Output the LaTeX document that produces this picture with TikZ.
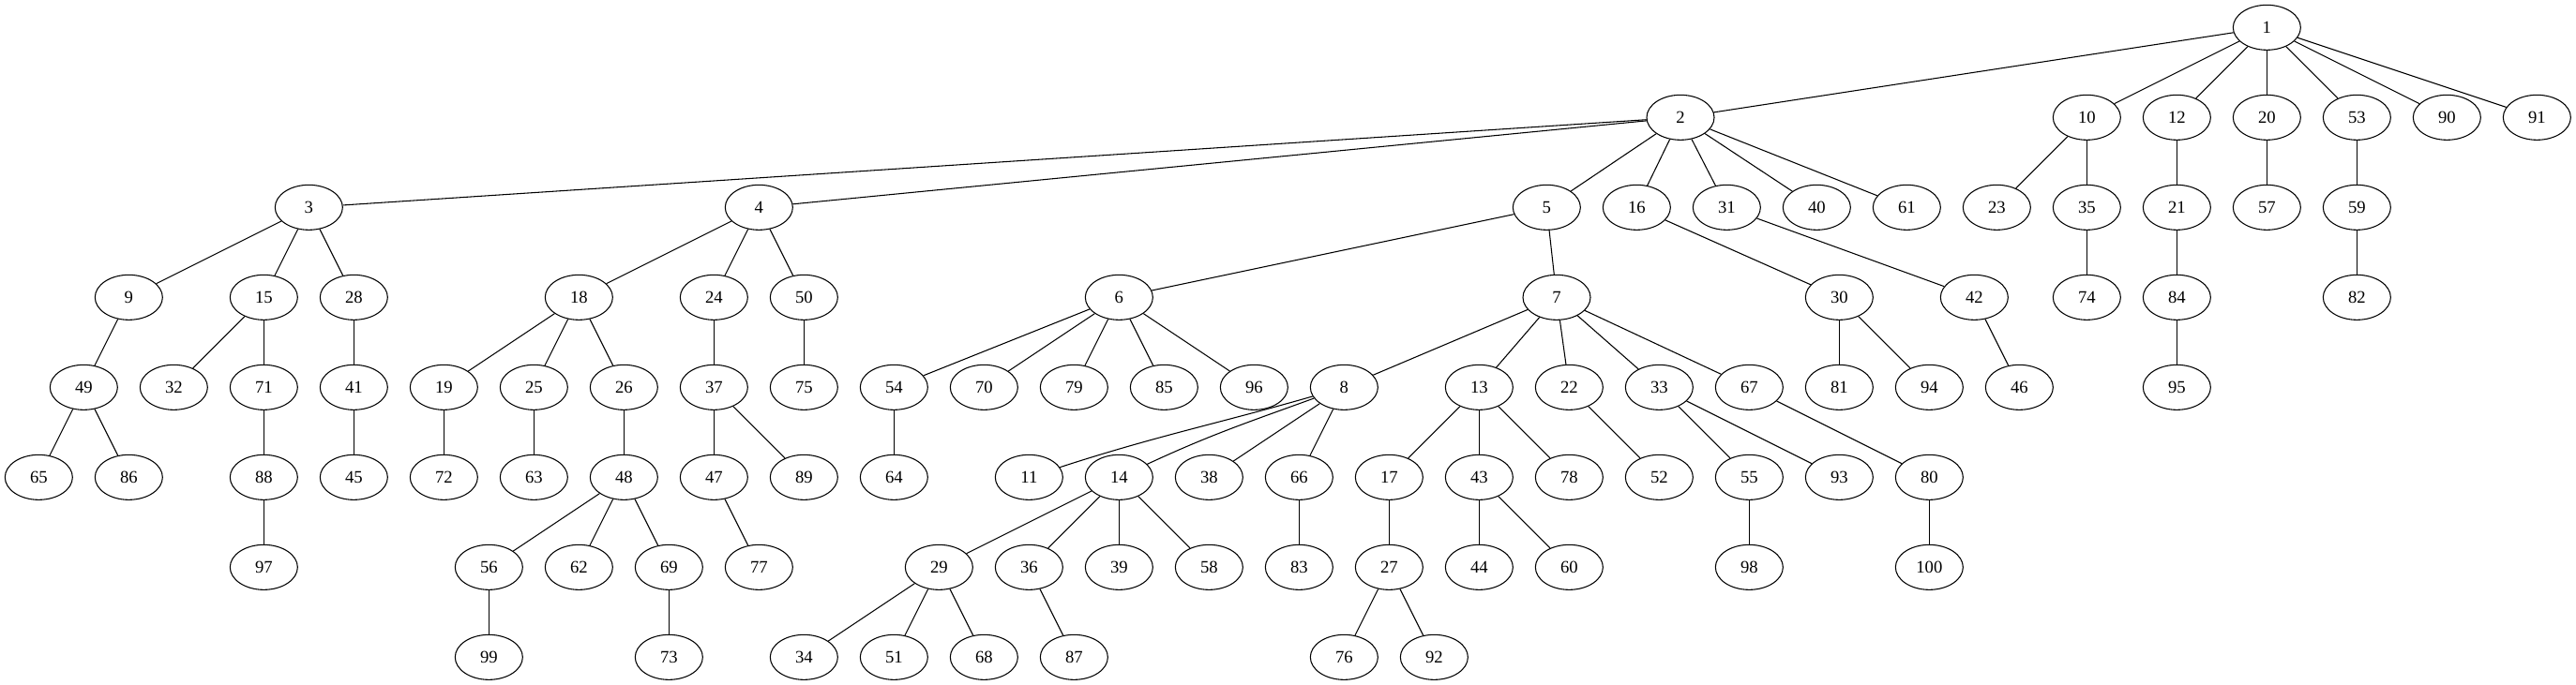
\documentclass[tikz,border=0pt]{standalone}
\usepackage{fontspec}
\setmainfont{Liberation Serif}
\usetikzlibrary{shapes.geometric}
\newcommand{\rankSep}[0]{72pt}

\begin{document}
\begin{tikzpicture}[x=1pt, y=-\rankSep, line width=0.8pt]
  \tikzset{vert/.style={draw, ellipse, minimum width=54pt, minimum height=36pt,
      inner sep=0pt, font=\fontsize{14}{16}\selectfont}}
  \useasboundingbox (0,-0.3056) rectangle (2060.25,7.309);
  % rank 0
  \node[vert] (n1) at (1813,0) {1};
  % rank 1
  \node[vert] (n2) at (1344,1) {2};
  \node[vert] (n10) at (1669,1) {10};
  \node[vert] (n12) at (1741,1) {12};
  \node[vert] (n20) at (1813,1) {20};
  \node[vert] (n53) at (1885,1) {53};
  \node[vert] (n90) at (1957,1) {90};
  \node[vert] (n91) at (2029,1) {91};
  % rank 2
  \node[vert] (n3) at (247,2) {3};
  \node[vert] (n4) at (607,2) {4};
  \node[vert] (n5) at (1237,2) {5};
  \node[vert] (n16) at (1309,2) {16};
  \node[vert] (n31) at (1381,2) {31};
  \node[vert] (n40) at (1453,2) {40};
  \node[vert] (n61) at (1525,2) {61};
  \node[vert] (n23) at (1597,2) {23};
  \node[vert] (n35) at (1669,2) {35};
  \node[vert] (n21) at (1741,2) {21};
  \node[vert] (n57) at (1813,2) {57};
  \node[vert] (n59) at (1885,2) {59};
  % rank 3
  \node[vert] (n9) at (103,3) {9};
  \node[vert] (n15) at (211,3) {15};
  \node[vert] (n28) at (283,3) {28};
  \node[vert] (n18) at (463,3) {18};
  \node[vert] (n24) at (571,3) {24};
  \node[vert] (n50) at (643,3) {50};
  \node[vert] (n6) at (895,3) {6};
  \node[vert] (n7) at (1245,3) {7};
  \node[vert] (n30) at (1471,3) {30};
  \node[vert] (n42) at (1579,3) {42};
  \node[vert] (n74) at (1669,3) {74};
  \node[vert] (n84) at (1741,3) {84};
  \node[vert] (n82) at (1885,3) {82};
  % rank 4
  \node[vert] (n49) at (67,4) {49};
  \node[vert] (n32) at (139,4) {32};
  \node[vert] (n71) at (211,4) {71};
  \node[vert] (n41) at (283,4) {41};
  \node[vert] (n19) at (355,4) {19};
  \node[vert] (n25) at (427,4) {25};
  \node[vert] (n26) at (499,4) {26};
  \node[vert] (n37) at (571,4) {37};
  \node[vert] (n75) at (643,4) {75};
  \node[vert] (n54) at (715,4) {54};
  \node[vert] (n70) at (787,4) {70};
  \node[vert] (n79) at (859,4) {79};
  \node[vert] (n85) at (931,4) {85};
  \node[vert] (n96) at (1003,4) {96};
  \node[vert] (n8) at (1075,4) {8};
  \node[vert] (n13) at (1183,4) {13};
  \node[vert] (n22) at (1255,4) {22};
  \node[vert] (n33) at (1327,4) {33};
  \node[vert] (n67) at (1399,4) {67};
  \node[vert] (n81) at (1471,4) {81};
  \node[vert] (n94) at (1543,4) {94};
  \node[vert] (n46) at (1615,4) {46};
  \node[vert] (n95) at (1741,4) {95};
  % rank 5
  \node[vert] (n65) at (31,5) {65};
  \node[vert] (n86) at (103,5) {86};
  \node[vert] (n88) at (211,5) {88};
  \node[vert] (n45) at (283,5) {45};
  \node[vert] (n72) at (355,5) {72};
  \node[vert] (n63) at (427,5) {63};
  \node[vert] (n48) at (499,5) {48};
  \node[vert] (n47) at (571,5) {47};
  \node[vert] (n89) at (643,5) {89};
  \node[vert] (n64) at (715,5) {64};
  \node[vert] (n11) at (823,5) {11};
  \node[vert] (n14) at (895,5) {14};
  \node[vert] (n38) at (967,5) {38};
  \node[vert] (n66) at (1039,5) {66};
  \node[vert] (n17) at (1111,5) {17};
  \node[vert] (n43) at (1183,5) {43};
  \node[vert] (n78) at (1255,5) {78};
  \node[vert] (n52) at (1327,5) {52};
  \node[vert] (n55) at (1399,5) {55};
  \node[vert] (n93) at (1471,5) {93};
  \node[vert] (n80) at (1543,5) {80};
  % rank 6
  \node[vert] (n97) at (211,6) {97};
  \node[vert] (n56) at (391,6) {56};
  \node[vert] (n62) at (463,6) {62};
  \node[vert] (n69) at (535,6) {69};
  \node[vert] (n77) at (607,6) {77};
  \node[vert] (n29) at (751,6) {29};
  \node[vert] (n36) at (823,6) {36};
  \node[vert] (n39) at (895,6) {39};
  \node[vert] (n58) at (967,6) {58};
  \node[vert] (n83) at (1039,6) {83};
  \node[vert] (n27) at (1111,6) {27};
  \node[vert] (n44) at (1183,6) {44};
  \node[vert] (n60) at (1255,6) {60};
  \node[vert] (n98) at (1399,6) {98};
  \node[vert] (n100) at (1543,6) {100};
  % rank 7
  \node[vert] (n99) at (391,7) {99};
  \node[vert] (n73) at (535,7) {73};
  \node[vert] (n34) at (643,7) {34};
  \node[vert] (n51) at (715,7) {51};
  \node[vert] (n68) at (787,7) {68};
  \node[vert] (n87) at (859,7) {87};
  \node[vert] (n76) at (1075,7) {76};
  \node[vert] (n92) at (1147,7) {92};
  % edges
  \foreach \p/\kids in {1/{2,10,12,20,53,90,91}, 2/{3,4,5,16,31,40,61},
      10/{23,35}, 12/{21}, 20/{57}, 53/{59}, 3/{9,15,28}, 4/{18,24,50},
      5/{6,7}, 16/{30}, 31/{42}, 35/{74}, 21/{84}, 59/{82}, 9/{49},
      15/{32,71}, 28/{41}, 18/{19,25,26}, 24/{37}, 50/{75},
      6/{54,70,79,85,96}, 7/{8,13,22,33,67}, 30/{81,94}, 42/{46}, 84/{95},
      49/{65,86}, 71/{88}, 41/{45}, 19/{72}, 25/{63}, 26/{48}, 37/{47,89},
      54/{64}, 8/{38,66}, 13/{17,43,78}, 22/{52}, 33/{55,93}, 67/{80},
      88/{97}, 48/{56,62,69}, 47/{77}, 14/{29,36,39,58}, 66/{83}, 17/{27},
      43/{44,60}, 55/{98}, 80/{100}, 56/{99}, 69/{73}, 29/{34,51,68},
      36/{87}, 27/{76,92}}
    \foreach \c in \kids
      \draw (n\p) -- (n\c);
  \draw (n8) to[out=196,in=18] (n11);
  \draw (n8) to[out=200,in=25] (n14);
\end{tikzpicture}
\end{document}
